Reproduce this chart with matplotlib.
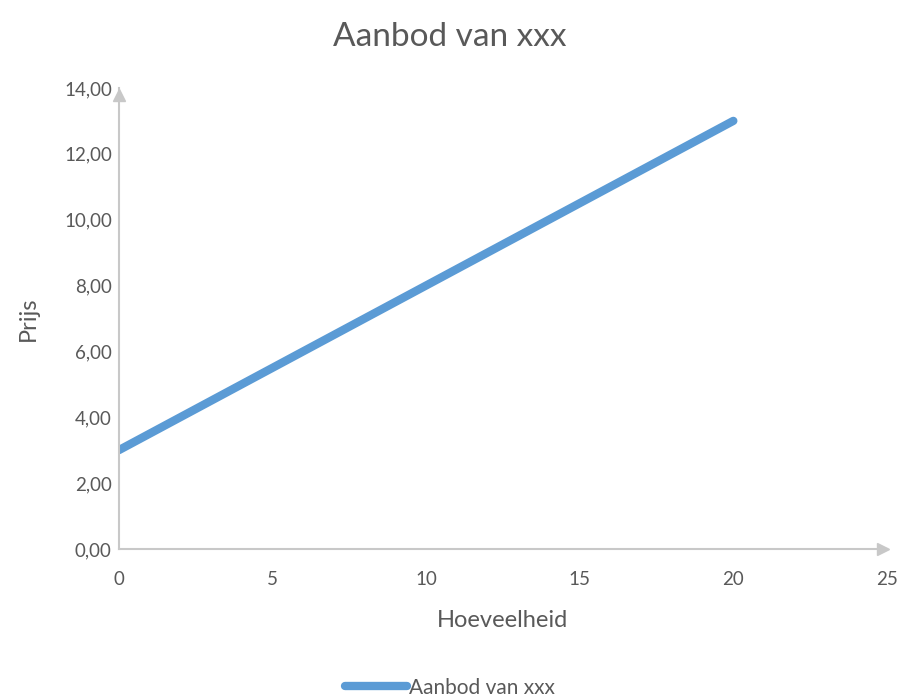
import matplotlib.pyplot as plt
from matplotlib.ticker import FuncFormatter

# aanbod data
hoeveelheid = [0, 2, 4, 6, 8, 10, 12, 14, 16, 18, 20]
prijs = [3, 4, 5, 6, 7, 8, 9, 10, 11, 12, 13]
x_ticks = [0, 5, 10, 15, 20, 25]
y_ticks = [0, 2, 4, 6, 8, 10, 12, 14]

grey = '#c8c8c8'
txt = '#595959'
plt.rcParams['font.family'] = ['Lato', 'DejaVu Sans']

fig = plt.figure(figsize=(9, 6.98), dpi=100)
ax = fig.add_axes([0.132, 0.2135, 0.8535, 0.6605])

ax.plot(hoeveelheid, prijs, color='#5b9bd5', lw=6, solid_capstyle='round',
        label='Aanbod van xxx')

ax.set_xlim(0, 25)
ax.set_ylim(0, 14)
ax.set_xticks(x_ticks)
ax.set_yticks(y_ticks)
ax.yaxis.set_major_formatter(FuncFormatter(lambda v, p: f'{v:.2f}'.replace('.', ',')))
ax.tick_params(length=0, colors=txt, labelsize=13.5)
ax.tick_params(axis='x', pad=16)
ax.tick_params(axis='y', pad=5)

for s in ['top', 'right']:
    ax.spines[s].set_visible(False)
for s in ['left', 'bottom']:
    ax.spines[s].set_color(grey)
    ax.spines[s].set_linewidth(1.5)

# pijlen op de assen
ax.plot(0.995, 0, '>', color=grey, ms=9, transform=ax.get_yaxis_transform(), clip_on=False)
ax.plot(0, 0.985, '^', color=grey, ms=9, transform=ax.get_xaxis_transform(), clip_on=False)

ax.set_xlabel('Hoeveelheid', color=txt, fontsize=17, labelpad=16)
ax.set_ylabel('Prijs', color=txt, fontsize=17, labelpad=18)
fig.suptitle('Aanbod van xxx', color=txt, fontsize=24, y=0.968)

fig.legend(loc='center', bbox_to_anchor=(0.5, 0.015), frameon=False,
           fontsize=15, labelcolor=txt, handlelength=3.0, handletextpad=0.1)

fig.savefig('out.png')
